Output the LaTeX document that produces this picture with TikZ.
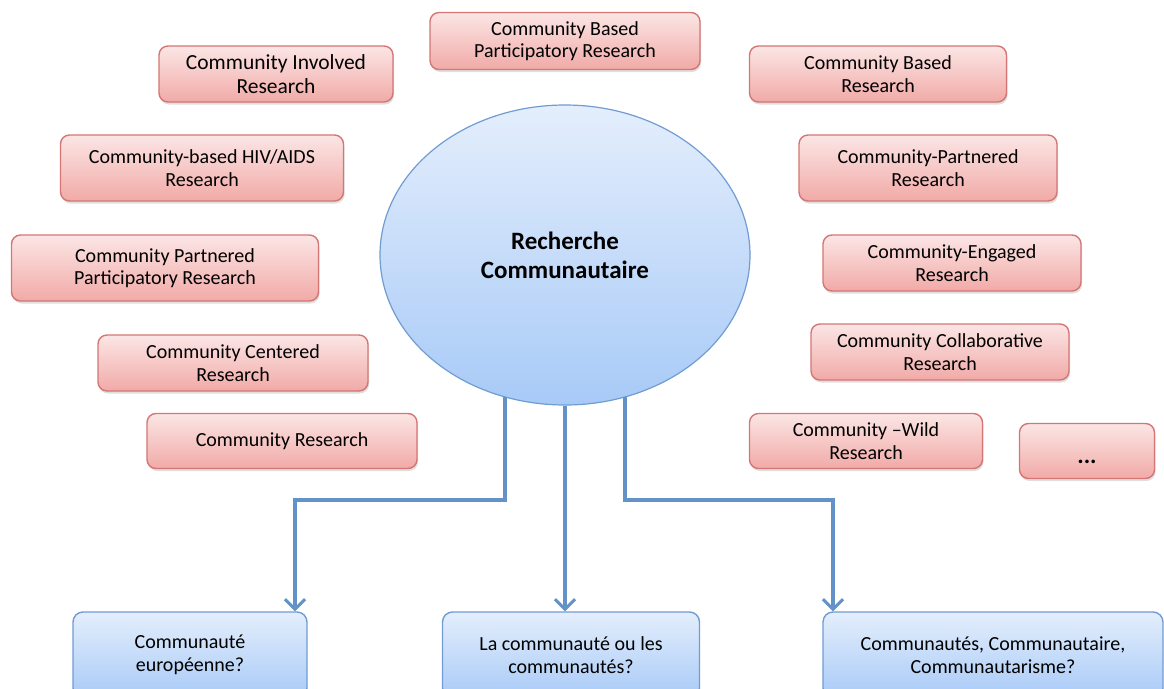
\documentclass[tikz,border=0pt]{standalone}
\usepackage{fontspec}
\setmainfont{Carlito}
\usetikzlibrary{shapes.geometric,shadows,arrows.meta}

\definecolor{redline}{RGB}{212,118,116}
\definecolor{redtop}{RGB}{251,230,229}
\definecolor{redbot}{RGB}{241,170,167}
\definecolor{blueline}{RGB}{112,156,210}
\definecolor{bluetop}{RGB}{228,238,252}
\definecolor{bluebot}{RGB}{168,202,247}
\definecolor{linkblue}{RGB}{98,146,200}

\tikzset{
	term/.style={draw=redline, line width=1.4pt, rounded corners=9pt,
		top color=redtop, bottom color=redbot, align=center, inner sep=0pt,
		font=\fontsize{20}{22.5}\selectfont,
		drop shadow={opacity=.25, shadow xshift=1pt, shadow yshift=-2.5pt}},
	question/.style={draw=blueline, line width=1.4pt, rounded corners=10pt,
		top color=bluetop, bottom color=bluebot, align=center, inner sep=0pt,
		font=\fontsize{20}{22.5}\selectfont},
	link/.style={draw=linkblue, line width=4pt, -{Straight Barb[length=10pt,width=20pt,line width=3pt]}}
}

\begin{document}
\begin{tikzpicture}[x=1pt, y=-1pt]
		\useasboundingbox (0,0) rectangle (1164,688);
		
		% central ellipse
		\node[ellipse, draw=blueline, line width=1.2pt, top color=bluetop, bottom color=bluebot,
			minimum width=370pt, minimum height=300pt, inner sep=0pt, align=center,
			font=\fontsize{25}{29}\selectfont\bfseries] (rc) at (565,255) {Recherche\\Communautaire};
		
		% left column
		\node[term, minimum width=234pt, minimum height=56pt, font=\fontsize{21.5}{23.5}\selectfont] (involved) at (276,74) {Community Involved\\Research};
		\node[term, minimum width=283pt, minimum height=66pt] (hiv) at (202,168) {Community-based HIV/AIDS\\Research};
		\node[term, minimum width=307pt, minimum height=66pt] (cppr) at (165,268) {Community Partnered\\Participatory Research};
		\node[term, minimum width=270pt, minimum height=56pt] (centered) at (233,363) {Community Centered\\Research};
		\node[term, minimum width=270pt, minimum height=55pt] (cr) at (282,441) {Community Research};
		
		% top
		\node[term, minimum width=270pt, minimum height=57pt] (cbpr) at (565,41) {Community Based\\Participatory Research};
		
		% right column
		\node[term, minimum width=257pt, minimum height=56pt] (based) at (878,74) {Community Based\\Research};
		\node[term, minimum width=258pt, minimum height=66pt] (partnered) at (928,168) {Community-Partnered\\Research};
		\node[term, minimum width=258pt, minimum height=56pt] (engaged) at (952,263) {Community-Engaged\\Research};
		\node[term, minimum width=258pt, minimum height=56pt] (collab) at (940,352) {Community Collaborative\\Research};
		\node[term, minimum width=233pt, minimum height=55pt] (wild) at (866,441) {Community --Wild\\Research};
		\node[term, minimum width=135pt, minimum height=55pt, font=\fontsize{24}{26}\selectfont\bfseries] (more) at (1087,451) {\smash{\raisebox{-12pt}{...}}};
		
		% questions
		\node[question, minimum width=234pt, minimum height=86pt] (europe) at (190,655) {Communauté\\européenne?};
		\node[question, minimum width=257pt, minimum height=86pt] (commu) at (571,655) {La communauté ou les\\communautés?};
		\node[question, minimum width=340pt, minimum height=86pt] (isme) at (993,655) {Communautés, Communautaire,\\Communautarisme?};
		
		\coordinate (bendL) at (295,500);
		\coordinate (bendR) at (833,500);
		
		\draw[link] (rc.247) |- (bendL) -- (europe.north -| bendL);
		\draw[link] (rc.south) -- (commu.north -| rc.south);
		\draw[link] (rc.293) |- (bendR) -- (isme.north -| bendR);
	\end{tikzpicture}
\end{document}
